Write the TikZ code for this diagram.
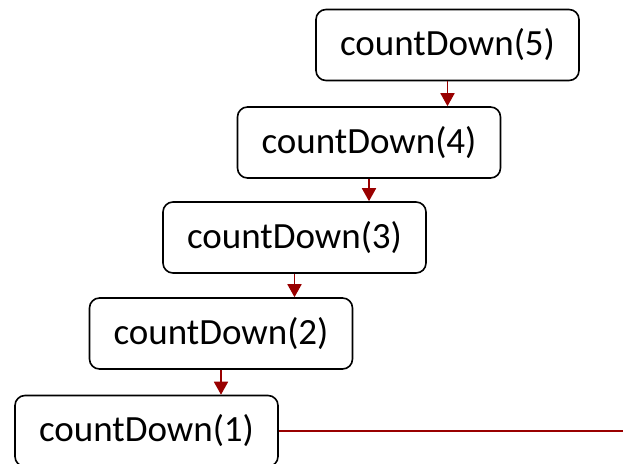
\documentclass[tikz,border=0pt]{standalone}
\usepackage{fontspec}
\setmainfont{Carlito}
\usetikzlibrary{arrows.meta}
\definecolor{darkred}{RGB}{153,0,0}
\begin{document}
\begin{tikzpicture}[x=1pt,y=-1pt,
  callbox/.style={draw=black, line width=1.6pt, rounded corners=10pt, minimum width=263pt, minimum height=71pt, inner sep=0pt, font=\fontsize{37}{40}\selectfont, fill=white},
  callarrow/.style={draw=darkred, line width=1.8pt, -{Triangle[length=13pt,width=14pt]}},
  retline/.style={draw=darkred, line width=1.8pt}]
\useasboundingbox (0,0) rectangle (623,463);
\node[callbox] (b5) at (447.5,45) {countDown(5)};
\node[callbox] (b4) at (369,142.5) {countDown(4)};
\node[callbox] (b3) at (294.5,237.5) {countDown(3)};
\node[callbox] (b2) at (221,333.5) {countDown(2)};
\node[callbox] (b1) at (146.5,431) {countDown(1)};
\coordinate (endr) at (623,431);
\draw[callarrow] (b5.south) -- (b5.south |- b4.north);
\draw[callarrow] (b4.south) -- (b4.south |- b3.north);
\draw[callarrow] (b3.south) -- (b3.south |- b2.north);
\draw[callarrow] (b2.south) -- (b2.south |- b1.north);
\draw[retline] (b1.east) -- (endr);
\end{tikzpicture}
\end{document}
